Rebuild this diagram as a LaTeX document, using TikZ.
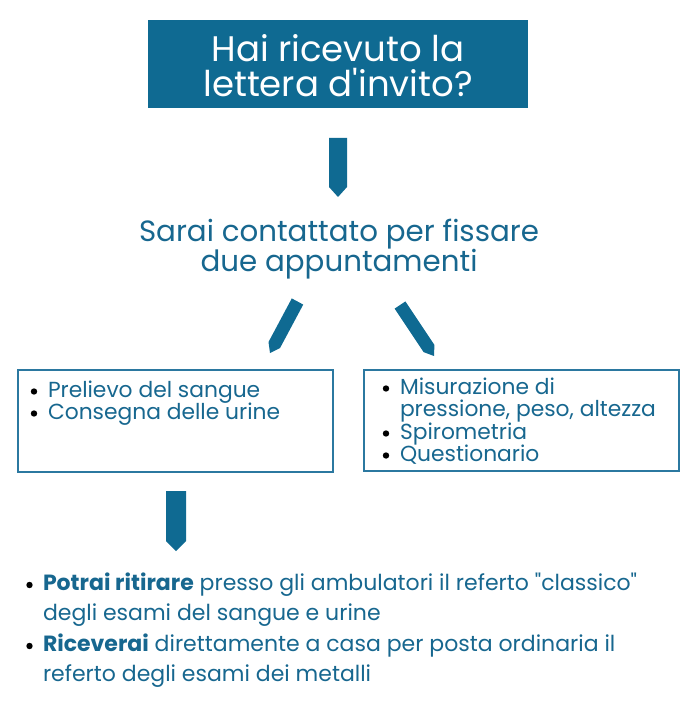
\documentclass[tikz,border=0pt]{standalone}
\usepackage{fontspec}
\setmainfont{Poppins}[Ligatures=TeXOff]
\usetikzlibrary{calc}
\definecolor{fillblue}{HTML}{0F6A92}
\definecolor{txtblue}{HTML}{17678F}
\definecolor{lineblue}{HTML}{2B78A0}
\newcommand\flowarrow[4]{% #1 top, #2 tip, #3 half width, #4 tip length
  \coordinate (#1s) at ($(#2)!#4!(#1)$);
  \fill[arrowc] ($(#1)!#3!90:(#2)$) -- ($(#1s)!#3!-90:(#1)$) -- (#2)
     -- ($(#1s)!#3!90:(#1)$) -- ($(#1)!#3!-90:(#2)$) -- cycle;}
\begin{document}
\begin{tikzpicture}[x=1pt,y=-1pt,
  every node/.style={inner sep=0pt, outer sep=0pt},
  arrowc/.style={fill=fillblue},
  titlebox/.style={fill=fillblue, minimum width=380pt, minimum height=88pt},
  frame/.style={draw=lineblue, line width=1.2pt, minimum width=315pt, minimum height=101pt},
  ttl/.style={text=white, font=\fontsize{35.5}{35}\selectfont, anchor=base},
  sub/.style={text=txtblue, font=\fontsize{29.3}{30}\selectfont, anchor=base},
  item/.style={text=txtblue, font=\fontsize{21.8}{22}\selectfont, anchor=base west},
  dot/.style={circle, fill=black, minimum size=6.4pt},
  bitem/.style={text=txtblue, font=\fontsize{22}{30}\selectfont, anchor=base west}
]
\useasboundingbox (0,0) rectangle (700,719);
% title
\node[titlebox] (q) at (338,64) {};
\node[ttl] (q1) at (338,62) {Hai ricevuto la};
\node[ttl] (q2) at (338,97) {lettera d'invito?};
% arrow 1
\coordinate (a1) at (338,138);
\coordinate (a1e) at (338,197);
\flowarrow{a1}{a1e}{9pt}{10pt}
% subtitle
\node[sub] (s1) at (339,241) {Sarai contattato per fissare};
\node[sub] (s2) at (339,271) {due appuntamenti};
% diagonal arrows
\coordinate (a2) at (297.5,301.5);
\coordinate (a2e) at (270,353);
\flowarrow{a2}{a2e}{6.5pt}{9pt}
\coordinate (a3) at (400,305);
\coordinate (a3e) at (434,356);
\flowarrow{a3}{a3e}{6.5pt}{9pt}
% boxes
\node[frame, minimum height=102pt] (l) at (175.5,421) {};
\node[frame] (r) at (521.5,420.5) {};
\node[dot] (lb1) at (34,391.5) {};
\node[item] (lt1) at (48,397) {Prelievo del sangue};
\node[dot] (lb2) at (34,413.5) {};
\node[item] (lt2) at (48,419) {Consegna delle urine};
\node[dot] (rb1) at (386,388.5) {};
\node[item] (rt1) at (400,394) {Misurazione di};
\node[item] (rt1b) at (400,416) {pressione, peso, altezza};
\node[dot] (rb2) at (386,433.5) {};
\node[item] (rt2) at (400,439) {Spirometria};
\node[dot] (rb3) at (386,455.5) {};
\node[item] (rt3) at (400,461) {Questionario};
% arrow 4
\coordinate (a4) at (176,491);
\coordinate (a4e) at (176,551);
\flowarrow{a4}{a4e}{10pt}{10pt}
% bottom text
\node[dot] (bb1) at (29.5,585) {};
\node[bitem] (bt1) at (43,590) {\textbf{Potrai ritirare} presso gli ambulatori il referto "classico"};
\node[bitem] (bt1b) at (43,620) {degli esami del sangue e urine};
\node[dot] (bb2) at (29.5,646) {};
\node[bitem] (bt2) at (43,651) {\textbf{Riceverai} direttamente a casa per posta ordinaria il};
\node[bitem] (bt2b) at (43,681) {referto degli esami dei metalli};
\end{tikzpicture}
\end{document}
